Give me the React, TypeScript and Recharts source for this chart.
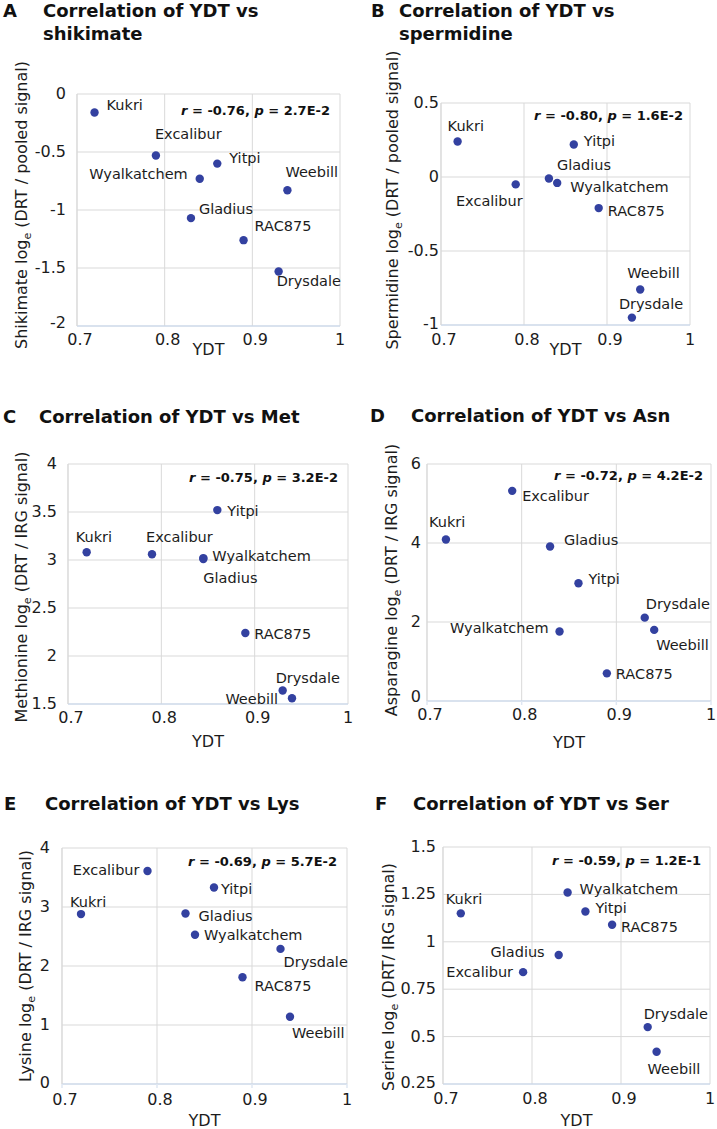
import React from 'react';
import { ScatterChart, Scatter, XAxis, YAxis, CartesianGrid, Label } from 'recharts';

// cultivars in the order used by every value array below
const CULTIVARS = ['Kukri', 'Excalibur', 'Gladius', 'Wyalkatchem', 'Yitpi', 'RAC875', 'Drysdale', 'Weebill'];
const YDT = [0.72, 0.79, 0.83, 0.84, 0.86, 0.89, 0.93, 0.94];
// panel C draws Gladius on top of Wyalkatchem
const YDT_MET = [0.72, 0.79, 0.845, 0.845, 0.86, 0.89, 0.93, 0.94];
const X_TICKS = [0.7, 0.8, 0.9, 1];

const SHIKIMATE = [-0.16, -0.53, -1.07, -0.73, -0.6, -1.26, -1.53, -0.83];
const SPERMIDINE = [0.24, -0.05, -0.01, -0.04, 0.22, -0.21, -0.95, -0.76];
const METHIONINE = [3.08, 3.06, 3.01, 3.02, 3.52, 2.24, 1.64, 1.56];
const ASPARAGINE = [4.09, 5.32, 3.91, 1.76, 2.98, 0.7, 2.11, 1.8];
const LYSINE = [2.88, 3.61, 2.89, 2.53, 3.33, 1.81, 2.29, 1.14];
const SERINE = [1.15, 0.84, 0.93, 1.26, 1.16, 1.09, 0.55, 0.42];

const R_VALUES = ['-0.76', '-0.80', '-0.75', '-0.72', '-0.69', '-0.59'];
const P_VALUES = ['2.7E-2', '1.6E-2', '3.2E-2', '4.2E-2', '5.7E-2', '1.2E-1'];

const FONT = "'DejaVu Sans', sans-serif";
const DOT = '#3341a0';
const GRID = '#d9d9d9';
const BOTTOM_AXIS = '#c6d8ef';
const INK = '#1c1c1c';

type Anchor = 'start' | 'end' | 'middle';
type Place = Record<string, [number, number, Anchor]>;

// label offsets from each dot (px)
const PLACE_A: Place = {
  Kukri: [12, -3, 'start'], Excalibur: [-1, -16, 'start'], Gladius: [8, -4, 'start'],
  Wyalkatchem: [-12, 0, 'end'], Yitpi: [12, -1, 'start'], RAC875: [11, -9, 'start'],
  Drysdale: [-2, 15, 'start'], Weebill: [-2, -13, 'start'],
};
const PLACE_B: Place = {
  Kukri: [-10, -10, 'start'], Excalibur: [7, 22, 'end'], Gladius: [8, -8, 'start'],
  Wyalkatchem: [13, 9, 'start'], Yitpi: [10, 2, 'start'], RAC875: [9, 8, 'start'],
  Drysdale: [-13, -9, 'start'], Weebill: [-13, -11, 'start'],
};
const PLACE_C: Place = {
  Kukri: [-11, -10, 'start'], Excalibur: [-6, -12, 'start'], Gladius: [0, 24, 'start'],
  Wyalkatchem: [9, 3, 'start'], Yitpi: [10, 6, 'start'], RAC875: [9, 6, 'start'],
  Drysdale: [-7, -8, 'start'], Weebill: [-14, 6, 'end'],
};
const PLACE_D: Place = {
  Kukri: [-17, -12, 'start'], Excalibur: [10, 10, 'start'], Gladius: [14, -2, 'start'],
  Wyalkatchem: [-11, 2, 'end'], Yitpi: [10, 1, 'start'], RAC875: [9, 6, 'start'],
  Drysdale: [1, -9, 'start'], Weebill: [2, 20, 'start'],
};
const PLACE_E: Place = {
  Kukri: [-11, -7, 'start'], Excalibur: [-8, 4, 'end'], Gladius: [13, 8, 'start'],
  Wyalkatchem: [9, 5, 'start'], Yitpi: [7, 6, 'start'], RAC875: [12, 14, 'start'],
  Drysdale: [3, 18, 'start'], Weebill: [2, 21, 'start'],
};
const PLACE_F: Place = {
  Kukri: [-15, -9, 'start'], Excalibur: [-10, 5, 'end'], Gladius: [-14, 2, 'end'],
  Wyalkatchem: [12, 1, 'start'], Yitpi: [10, 2, 'start'], RAC875: [9, 7, 'start'],
  Drysdale: [-4, -8, 'start'], Weebill: [-9, 22, 'start'],
};

interface Panel {
  letter: string;
  lines: string[];
  letterX: number;
  titleX: number;
  titleY: number;
  x0: number;
  width: number;
  plot: { L: number; T: number; R: number; B: number };
  xs: number[];
  ys: number[];
  yDomain: [number, number];
  yTicks: number[];
  yName: string;
  yTail: string;
  yTitleX: number;
  yTitleCy: number;
  statsX: number;
  statsY: number;
  xTitleY: number;
  tickDy: number;
  tickGap: number;
  bottomLift: number;
  tickMarks: boolean;
  place: Place;
}

const PANELS: Panel[] = [
  {
    letter: 'A', lines: ['Correlation of YDT vs', 'shikimate'], letterX: 3, titleX: 43, titleY: 17,
    x0: 0, width: 358, plot: { L: 77, T: 94, R: 340, B: 326 },
    xs: YDT, ys: SHIKIMATE, yDomain: [-2, 0], yTicks: [-2, -1.5, -1, -0.5, 0],
    yName: 'Shikimate', yTail: '(DRT / pooled signal)', yTitleX: 27, yTitleCy: 205,
    statsX: 330, statsY: 115, xTitleY: 355, tickDy: 19, tickGap: 11, bottomLift: 3.5,
    tickMarks: false, place: PLACE_A,
  },
  {
    letter: 'B', lines: ['Correlation of YDT vs', 'spermidine'], letterX: 371, titleX: 399, titleY: 17,
    x0: 358, width: 359, plot: { L: 441, T: 103, R: 690, B: 325 },
    xs: YDT, ys: SPERMIDINE, yDomain: [-1, 0.5], yTicks: [-1, -0.5, 0, 0.5],
    yName: 'Spermidine', yTail: '(DRT / pooled signal)', yTitleX: 398, yTitleCy: 200,
    statsX: 683, statsY: 120, xTitleY: 355, tickDy: 20, tickGap: 2, bottomLift: 1.5,
    tickMarks: false, place: PLACE_B,
  },
  {
    letter: 'C', lines: ['Correlation of YDT vs Met'], letterX: 3, titleX: 39, titleY: 423,
    x0: 0, width: 358, plot: { L: 68, T: 464, R: 348, B: 704 },
    xs: YDT_MET, ys: METHIONINE, yDomain: [1.5, 4], yTicks: [1.5, 2, 2.5, 3, 3.5, 4],
    yName: 'Methionine', yTail: '(DRT / IRG signal)', yTitleX: 27, yTitleCy: 587,
    statsX: 338, statsY: 482, xTitleY: 747, tickDy: 19, tickGap: 11, bottomLift: 0,
    tickMarks: false, place: PLACE_C,
  },
  {
    letter: 'D', lines: ['Correlation of YDT vs Asn'], letterX: 370, titleX: 411, titleY: 422,
    x0: 358, width: 359, plot: { L: 427, T: 464, R: 711, B: 701 },
    xs: YDT, ys: ASPARAGINE, yDomain: [0, 6], yTicks: [0, 2, 4, 6],
    yName: 'Asparagine', yTail: '(DRT / IRG signal)', yTitleX: 397, yTitleCy: 580,
    statsX: 703, statsY: 480, xTitleY: 748, tickDy: 19, tickGap: 6, bottomLift: 4,
    tickMarks: true, place: PLACE_D,
  },
  {
    letter: 'E', lines: ['Correlation of YDT vs Lys'], letterX: 4, titleX: 45, titleY: 810,
    x0: 0, width: 358, plot: { L: 62, T: 848, R: 347, B: 1084 },
    xs: YDT, ys: LYSINE, yDomain: [0, 4], yTicks: [0, 1, 2, 3, 4],
    yName: 'Lysine', yTail: '(DRT / IRG signal)', yTitleX: 31, yTitleCy: 966,
    statsX: 337, statsY: 866, xTitleY: 1126, tickDy: 21, tickGap: 12, bottomLift: 1.5,
    tickMarks: true, place: PLACE_E,
  },
  {
    letter: 'F', lines: ['Correlation of YDT vs Ser'], letterX: 375, titleX: 413, titleY: 810,
    x0: 358, width: 359, plot: { L: 443, T: 847, R: 710, B: 1084 },
    xs: YDT, ys: SERINE, yDomain: [0.25, 1.5], yTicks: [0.25, 0.5, 0.75, 1, 1.25, 1.5],
    yName: 'Serine', yTail: '(DRT/ IRG signal)', yTitleX: 394, yTitleCy: 977,
    statsX: 701, statsY: 865, xTitleY: 1126, tickDy: 20, tickGap: 7, bottomLift: 1,
    tickMarks: false, place: PLACE_F,
  },
];

const makeShape = (place: Place) => (props: any) => {
  const { cx, cy, payload } = props;
  const [dx, dy, anchor] = place[payload.name] || [8, 0, 'start'];
  return (
    <g>
      <circle cx={cx} cy={cy} r={4.2} fill={DOT} />
      <text x={cx + dx} y={cy + dy} textAnchor={anchor} fontSize={14.5} fill={INK} fontFamily={FONT}>
        {payload.name}
      </text>
    </g>
  );
};

const makeXTick = (dy: number) => (props: any) => {
  const { x, y, payload } = props;
  const shift = payload.value === 1 ? 0 : 3;
  return (
    <text x={x + shift} y={y + dy} textAnchor="middle" fontSize={16} fill={INK} fontFamily={FONT}>
      {String(payload.value)}
    </text>
  );
};

const makeYTick = (gap: number, lift: number, min: number) => (props: any) => {
  const { x, y, payload } = props;
  const up = payload.value === min ? lift : 0;
  return (
    <text x={x - gap} y={y + 5 - up} textAnchor="end" fontSize={16} fill={INK} fontFamily={FONT}>
      {String(payload.value)}
    </text>
  );
};

const ScatterPanel = ({ p }: { p: Panel }) => {
  // leave room above the plot for the rotated axis title
  const y0 = p.plot.T - 70;
  const height = p.xTitleY + 6 - y0;
  const data = CULTIVARS.map((name, i) => ({ name, x: p.xs[i], y: p.ys[i] }));
  const yCx = p.yTitleX - p.x0;
  const yCy = p.yTitleCy - y0;
  const tickSize = p.tickMarks ? 4 : 0;

  return (
    <div style={{ position: 'absolute', left: p.x0, top: y0 }}>
      <ScatterChart
        width={p.width}
        height={height}
        margin={{ top: p.plot.T - y0, right: p.x0 + p.width - p.plot.R, bottom: 0, left: 0 }}
      >
        <CartesianGrid stroke={GRID} strokeWidth={1} />
        <XAxis
          type="number"
          dataKey="x"
          domain={[0.7, 1]}
          ticks={X_TICKS}
          interval={0}
          height={y0 + height - p.plot.B}
          tickSize={tickSize}
          tickMargin={0}
          tickLine={p.tickMarks ? { stroke: '#dfe7f2', strokeWidth: 1.5 } : false}
          axisLine={{ stroke: BOTTOM_AXIS, strokeWidth: 1.2 }}
          tick={makeXTick(p.tickDy - tickSize)}
        >
          <Label
            content={() => (
              <text
                x={(p.plot.L + p.plot.R) / 2 - p.x0}
                y={p.xTitleY - y0}
                textAnchor="middle"
                fontSize={16}
                fill={INK}
                fontFamily={FONT}
              >
                YDT
              </text>
            )}
          />
        </XAxis>
        <YAxis
          type="number"
          dataKey="y"
          domain={p.yDomain}
          ticks={p.yTicks}
          interval={0}
          width={p.plot.L - p.x0}
          tickSize={0}
          tickMargin={0}
          tickLine={false}
          axisLine={{ stroke: GRID, strokeWidth: 1 }}
          tick={makeYTick(p.tickGap, p.bottomLift, p.yDomain[0])}
        >
          <Label
            content={() => (
              <text
                x={yCx}
                y={yCy}
                transform={`rotate(-90 ${yCx} ${yCy})`}
                textAnchor="middle"
                fontSize={16}
                fill={INK}
                fontFamily={FONT}
              >
                {p.yName} log
                <tspan dy={4} fontSize={11}>e</tspan>
                <tspan dy={-4}> {p.yTail}</tspan>
              </text>
            )}
          />
        </YAxis>
        <Scatter data={data} isAnimationActive={false} shape={makeShape(p.place)} />
      </ScatterChart>
    </div>
  );
};

export default function App() {
  return (
    <div
      style={{
        position: 'absolute',
        left: 0,
        top: 0,
        width: 717,
        height: 1129,
        background: '#fff',
        overflow: 'hidden',
      }}
    >
      {PANELS.map((p) => (
        <ScatterPanel key={p.letter} p={p} />
      ))}
      <svg
        width={717}
        height={1129}
        style={{ position: 'absolute', left: 0, top: 0, pointerEvents: 'none' }}
      >
        {PANELS.map((p, i) => (
          <g key={p.letter} fontFamily={FONT} fontWeight="bold" fill="#111">
            <text x={p.letterX} y={p.titleY} fontSize={18}>{p.letter}</text>
            {p.lines.map((line, j) => (
              <text key={j} x={p.titleX} y={p.titleY + j * 22.5} fontSize={18}>
                {line}
              </text>
            ))}
            <text x={p.statsX} y={p.statsY} fontSize={13} textAnchor="end">
              <tspan fontStyle="italic">r</tspan> = {R_VALUES[i]}, <tspan fontStyle="italic">p</tspan> = {P_VALUES[i]}
            </text>
          </g>
        ))}
      </svg>
    </div>
  );
}
